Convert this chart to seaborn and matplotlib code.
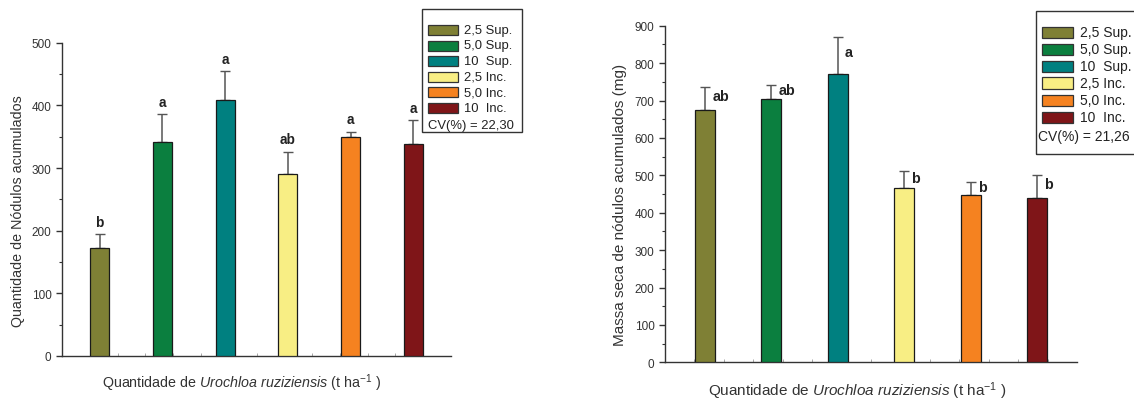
import numpy as np
import pandas as pd
import matplotlib
matplotlib.use("Agg")
import matplotlib.pyplot as plt
from matplotlib.patches import Rectangle
from matplotlib.ticker import MultipleLocator, FixedLocator, NullFormatter
import seaborn as sns

# ---- data ----
treatments = ["2,5 Sup.", "5,0 Sup.", "10  Sup.", "2,5 Inc.", "5,0 Inc.", "10  Inc."]
colors = ["#7f8035", "#0b7f3f", "#008080", "#f8ee84", "#f58220", "#7f1518"]

nodule_count = [172, 342, 408, 290, 350, 338]
nodule_count_err = [22, 44, 47, 36, 8, 38]
nodule_count_letters = ["b", "a", "a", "ab", "a", "a"]
cv_count = "CV(%) = 22,30"

nodule_mass = [675, 705, 770, 465, 447, 438]
nodule_mass_err = [62, 37, 101, 46, 36, 64]
nodule_mass_letters = ["ab", "ab", "a", "b", "b", "b"]
cv_mass = "CV(%) = 21,26"

# ---- style ----
sns.set_style("ticks")
plt.rcParams["font.family"] = ["Liberation Sans", "DejaVu Sans"]
plt.rcParams["mathtext.fontset"] = "custom"
plt.rcParams["mathtext.rm"] = "Liberation Sans"
plt.rcParams["mathtext.it"] = "Liberation Sans:italic"
plt.rcParams["mathtext.default"] = "rm"

W, H = 1134, 402
fig = plt.figure(figsize=(W / 100, H / 100), dpi=100)
fig.patch.set_facecolor("white")

TEXT = "#333333"
AXC = "#333333"


def px_axes(x0, y_top, x1, y_bot):
    return fig.add_axes([x0 / W, 1 - y_bot / H, (x1 - x0) / W, (y_bot - y_top) / H])


def fx(x):
    return x / W


def fy(y):
    return 1 - y / H


def draw_panel(ax, values, errs, ymax, tick_fs):
    df = pd.DataFrame({"trat": treatments, "val": values})
    sns.barplot(data=df, x="trat", y="val", hue="trat", order=treatments,
                hue_order=treatments, palette=colors, saturation=1,
                width=0.3, dodge=False, legend=False, errorbar=None,
                edgecolor="#1a1a1a", linewidth=0.9, ax=ax, zorder=3)
    xs = np.arange(len(values))
    ax.errorbar(xs, values, yerr=[np.zeros(len(errs)), errs], fmt="none",
                ecolor="#555555", elinewidth=1.1, capsize=3.5, capthick=1.0,
                zorder=2)
    ax.set_xlim(-0.6, 5.6)
    ax.set_ylim(0, ymax)
    for s in ["top", "right"]:
        ax.spines[s].set_visible(False)
    for s in ["left", "bottom"]:
        ax.spines[s].set_color(AXC)
        ax.spines[s].set_linewidth(1.0)
    ax.yaxis.set_major_locator(MultipleLocator(100))
    ax.yaxis.set_minor_locator(MultipleLocator(50))
    ax.tick_params(axis="y", which="major", direction="out", length=4.5,
                   width=1.0, color=AXC, labelsize=tick_fs, labelcolor=TEXT, pad=3)
    ax.tick_params(axis="y", which="minor", direction="out", length=2.5,
                   width=0.8, color=AXC)
    ax.xaxis.set_major_locator(FixedLocator([]))
    ax.xaxis.set_minor_locator(FixedLocator(-0.6 + np.arange(1, 14) * 6.2 / 14))
    ax.xaxis.set_minor_formatter(NullFormatter())
    ax.tick_params(axis="x", which="minor", direction="in", length=2.5,
                   width=0.6, color="#999999")
    ax.set_xlabel("")
    ax.set_ylabel("")
    ax.set_facecolor("white")


def draw_key(box, first_y, step, patch_x, patch_w, patch_h, text_x, cv_x, cv_y,
             cv_text, fs):
    x0, y0, x1, y1 = box
    fig.patches.append(Rectangle((fx(x0), fy(y1)), fx(x1 - x0), (y1 - y0) / H,
                                 transform=fig.transFigure, fill=False,
                                 edgecolor="#333333", linewidth=1.0))
    for i, (lab, c) in enumerate(zip(treatments, colors)):
        yc = first_y + i * step
        fig.patches.append(Rectangle((fx(patch_x), fy(yc + patch_h / 2)),
                                     fx(patch_w), patch_h / H,
                                     transform=fig.transFigure, facecolor=c,
                                     edgecolor="#333333", linewidth=0.9))
        fig.text(fx(text_x), fy(yc), lab, fontsize=fs, color="#222222",
                 ha="left", va="center")
    fig.text(fx(cv_x), fy(cv_y), cv_text, fontsize=fs, color="#222222",
             ha="left", va="center")


XLAB = r"Quantidade de $\it{Urochloa\ ruziziensis}$ (t ha$^{-1}$ )"

# ---- left panel: nodule count ----
ax1 = px_axes(62, 43.7, 451, 357)
draw_panel(ax1, nodule_count, nodule_count_err, 500, 8.5)
for i, (v, e, lab) in enumerate(zip(nodule_count, nodule_count_err, nodule_count_letters)):
    ax1.annotate(lab, (i, v + e), xytext=(0, 6), textcoords="offset points",
                 ha="center", va="baseline", fontsize=9.8, fontweight="bold",
                 color="#222222")
fig.text(fx(18), fy(211), "Quantidade de Nódulos acumulados", rotation=90,
         fontsize=10.3, color=TEXT, ha="center", va="center")
fig.text(fx(242), fy(388), XLAB, fontsize=10.3, color=TEXT, ha="center",
         va="baseline")
draw_key((422, 10, 522, 133), 31, 15.5, 428, 30, 10, 464, 428, 126, cv_count, 9.4)

# ---- right panel: nodule dry mass ----
ax2 = px_axes(665, 26.7, 1077, 363.3)
draw_panel(ax2, nodule_mass, nodule_mass_err, 900, 8.5)
for i, (v, e, lab) in enumerate(zip(nodule_mass, nodule_mass_err, nodule_mass_letters)):
    ax2.text(i + 0.11, v + 0.6 * e, lab, ha="left", va="center",
             fontsize=10.3, fontweight="bold", color="#222222")
fig.text(fx(620), fy(205), "Massa seca de nódulos acumulados (mg)", rotation=90,
         fontsize=11, color=TEXT, ha="center", va="center")
fig.text(fx(857), fy(396), XLAB, fontsize=11, color=TEXT, ha="center",
         va="baseline")
draw_key((1036, 12, 1150, 155), 33, 17, 1042, 31, 11, 1080, 1038, 137, cv_mass, 10)

fig.savefig("out.png", dpi=100, facecolor="white")
